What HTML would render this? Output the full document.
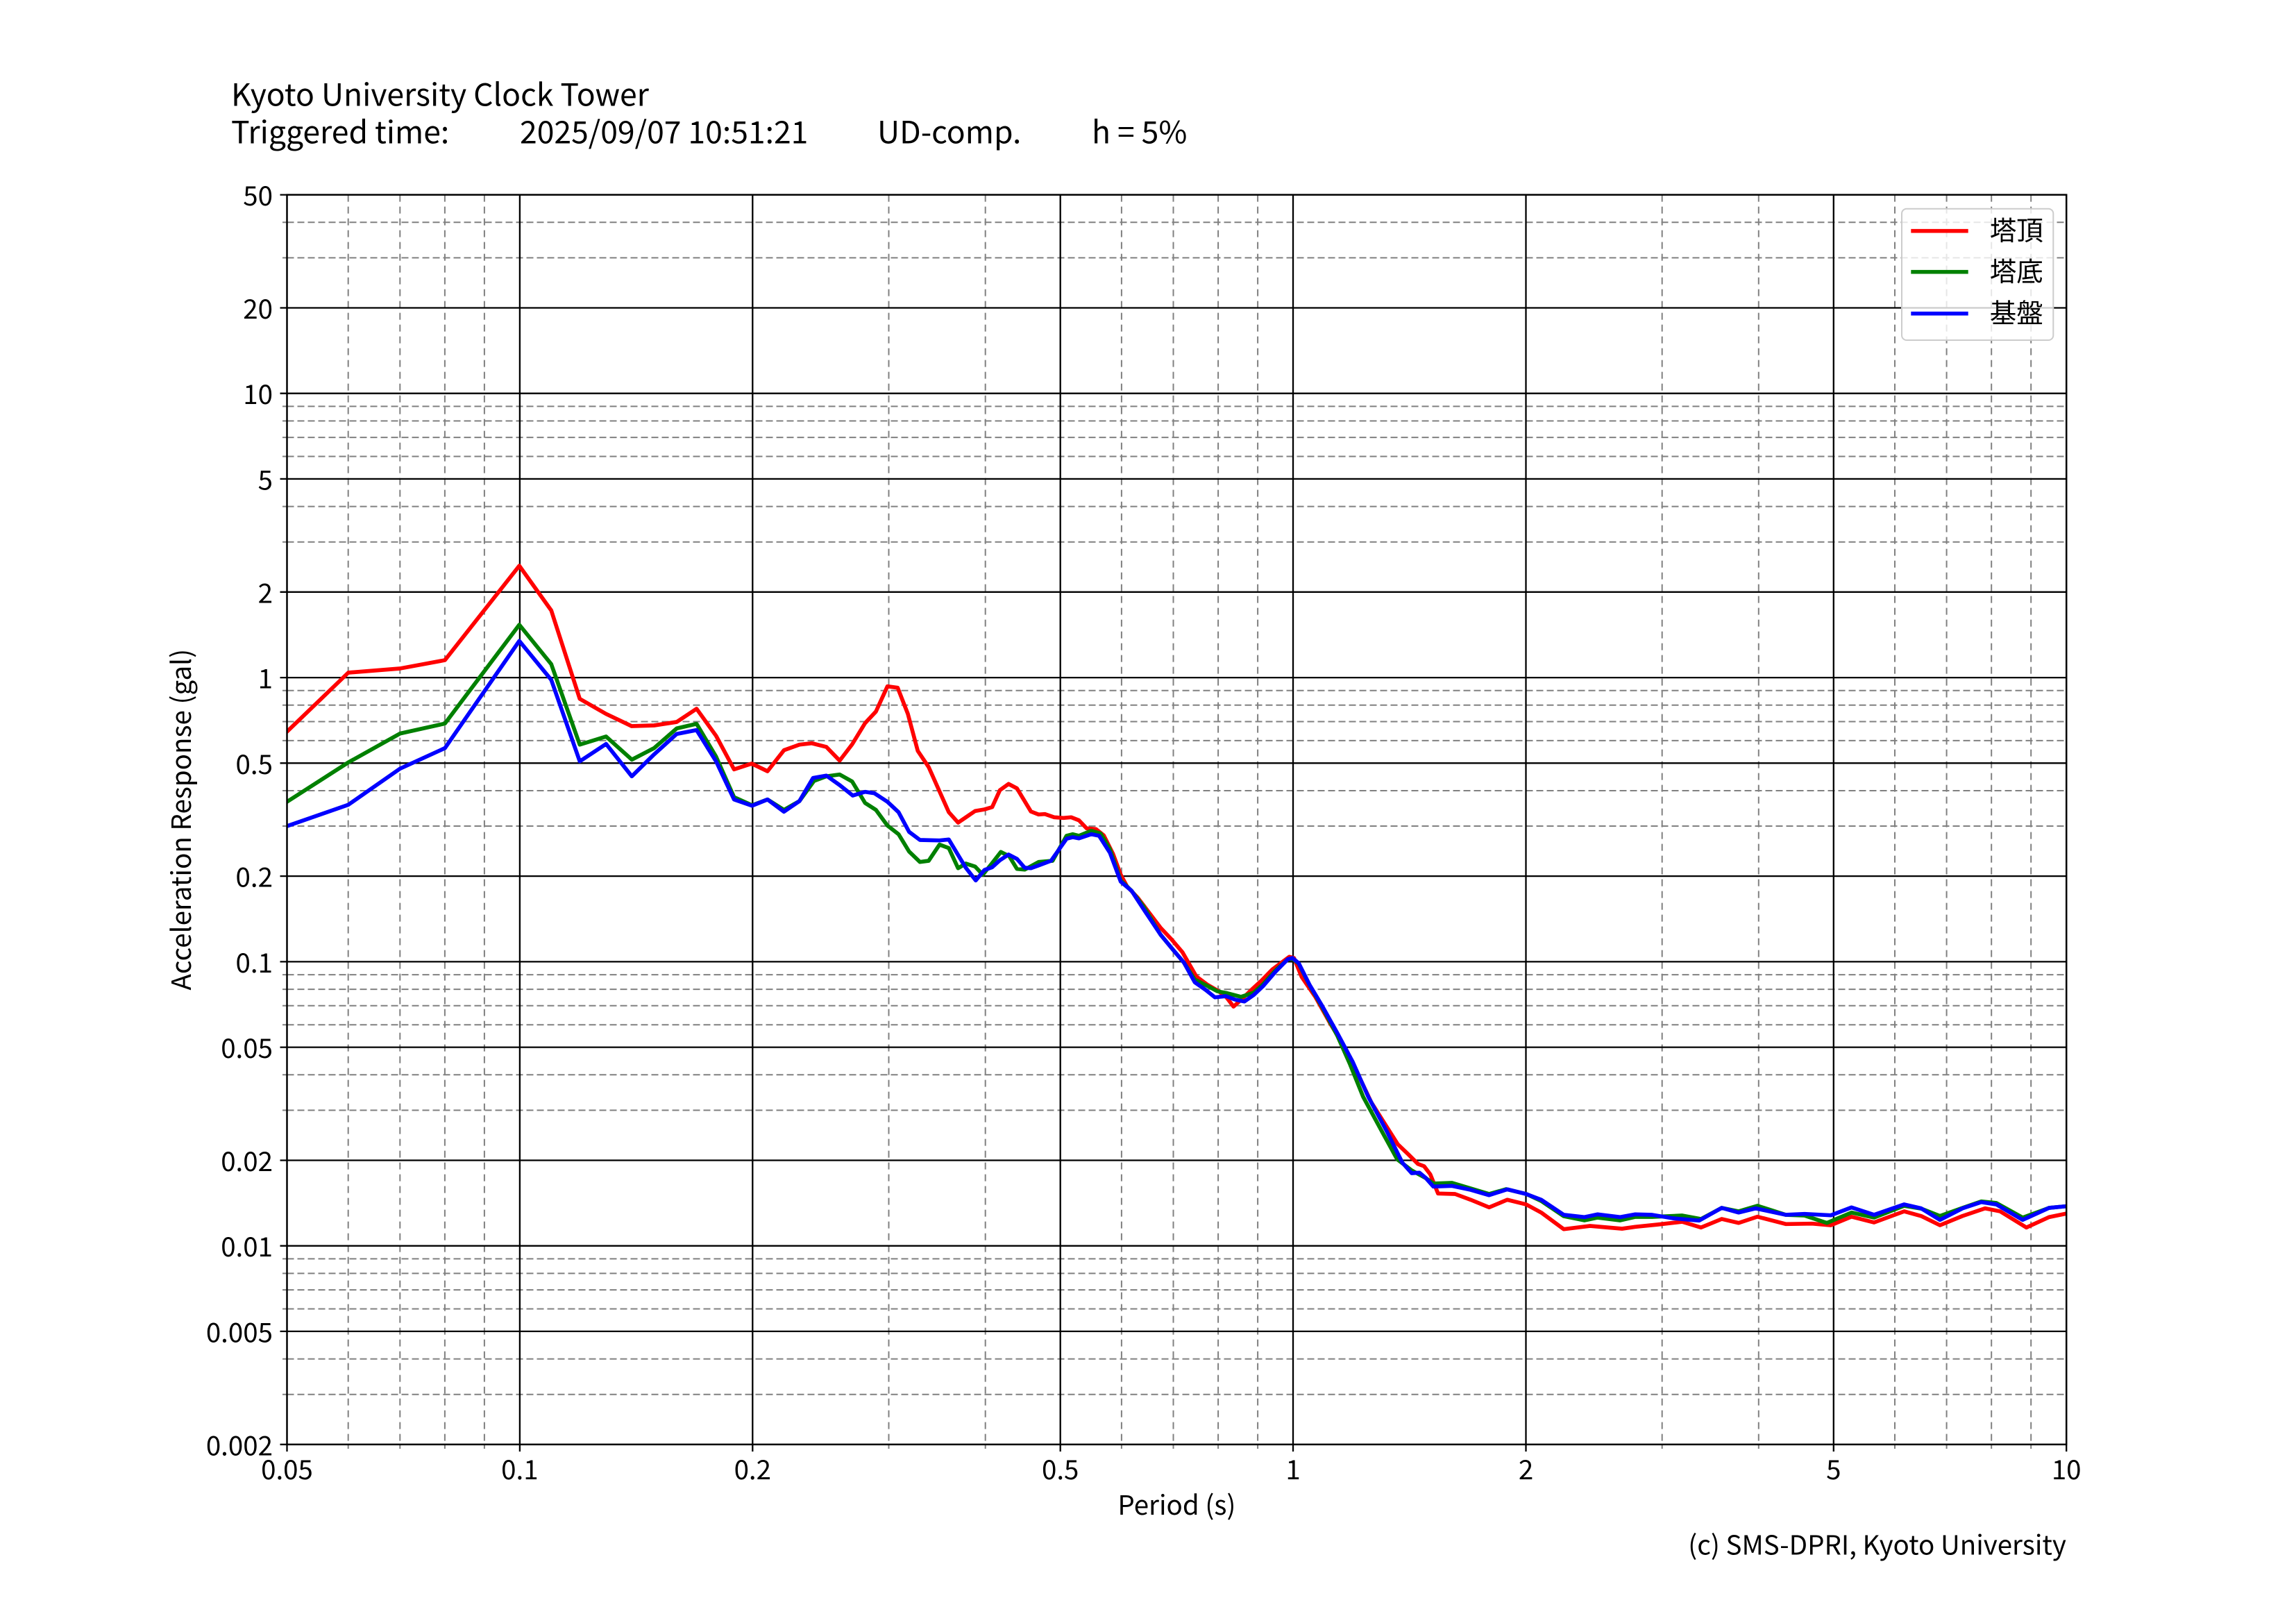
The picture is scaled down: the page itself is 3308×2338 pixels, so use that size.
<!DOCTYPE html>
<html><head><meta charset="utf-8"><style>
html,body{margin:0;padding:0;background:#fff;}
svg{display:block;}
text{font-family:"Noto Sans CJK JP","Liberation Sans",sans-serif;fill:#000;}
</style></head><body>
<svg width="3308" height="2338" viewBox="0 0 3308 2338" xmlns="http://www.w3.org/2000/svg">
<rect width="3308" height="2338" fill="#fff"/>
<!-- Title -->
<text x="333" y="152.7" font-size="44.5">Kyoto University Clock Tower</text>
<text x="333" y="206.7" font-size="44.5">Triggered time:</text>
<text x="749" y="206.7" font-size="44.5">2025/09/07 10:51:21</text>
<text x="1264" y="206.7" font-size="44.5">UD-comp.</text>
<text x="1573" y="206.7" font-size="44.5">h = 5%</text>

<!-- dashed grid -->
<g stroke="#808080" stroke-width="2" stroke-dasharray="10,5" fill="none">
<path d="M413.5 320.3H2977.2M413.5 371.4H2977.2M413.5 585.4H2977.2M413.5 606.4H2977.2M413.5 630.1H2977.2M413.5 657.5H2977.2M413.5 729.6H2977.2M413.5 780.7H2977.2M413.5 994.8H2977.2M413.5 1015.8H2977.2M413.5 1039.5H2977.2M413.5 1066.9H2977.2M413.5 1139H2977.2M413.5 1190H2977.2M413.5 1404.1H2977.2M413.5 1425.1H2977.2M413.5 1448.8H2977.2M413.5 1476.2H2977.2M413.5 1548.3H2977.2M413.5 1599.4H2977.2M413.5 1813.4H2977.2M413.5 1834.4H2977.2M413.5 1858.1H2977.2M413.5 1885.5H2977.2M413.5 1957.6H2977.2M413.5 2008.7H2977.2"/>
</g>
<g stroke="#808080" stroke-width="2" stroke-dasharray="10,7" fill="none">
<path d="M501.7 280.6V2080.8M576.3 280.6V2080.8M640.9 280.6V2080.8M697.9 280.6V2080.8M1280.5 280.6V2080.8M1419.7 280.6V2080.8M1615.9 280.6V2080.8M1690.5 280.6V2080.8M1755.1 280.6V2080.8M1812.1 280.6V2080.8M2394.7 280.6V2080.8M2533.8 280.6V2080.8M2730 280.6V2080.8M2804.6 280.6V2080.8M2869.2 280.6V2080.8M2926.2 280.6V2080.8"/>
</g>
<!-- minor ticks -->
<g stroke="#808080" stroke-width="2" fill="none">
<path d="M407 320.3H413.5M407 371.4H413.5M407 585.4H413.5M407 606.4H413.5M407 630.1H413.5M407 657.5H413.5M407 729.6H413.5M407 780.7H413.5M407 994.8H413.5M407 1015.8H413.5M407 1039.5H413.5M407 1066.9H413.5M407 1139H413.5M407 1190H413.5M407 1404.1H413.5M407 1425.1H413.5M407 1448.8H413.5M407 1476.2H413.5M407 1548.3H413.5M407 1599.4H413.5M407 1813.4H413.5M407 1834.4H413.5M407 1858.1H413.5M407 1885.5H413.5M407 1957.6H413.5M407 2008.7H413.5"/>
<path d="M501.7 2080.8V2087M576.3 2080.8V2087M640.9 2080.8V2087M697.9 2080.8V2087M1280.5 2080.8V2087M1419.7 2080.8V2087M1615.9 2080.8V2087M1690.5 2080.8V2087M1755.1 2080.8V2087M1812.1 2080.8V2087M2394.7 2080.8V2087M2533.8 2080.8V2087M2730 2080.8V2087M2804.6 2080.8V2087M2869.2 2080.8V2087M2926.2 2080.8V2087"/>
</g>
<!-- major grid -->
<g stroke="#000" stroke-width="2.3" fill="none">
<path d="M413.5 443.5H2977.2M413.5 566.7H2977.2M413.5 689.9H2977.2M413.5 852.8H2977.2M413.5 976.1H2977.2M413.5 1099.3H2977.2M413.5 1262.1H2977.2M413.5 1385.4H2977.2M413.5 1508.6H2977.2M413.5 1671.5H2977.2M413.5 1794.7H2977.2M413.5 1917.9H2977.2"/>
<path d="M748.9 280.6V2080.8M1084.3 280.6V2080.8M1527.7 280.6V2080.8M1863 280.6V2080.8M2198.5 280.6V2080.8M2641.8 280.6V2080.8"/>
<!-- major ticks -->
<path d="M403.5 280.6H413.5M403.5 443.5H413.5M403.5 566.7H413.5M403.5 689.9H413.5M403.5 852.8H413.5M403.5 976.1H413.5M403.5 1099.3H413.5M403.5 1262.1H413.5M403.5 1385.4H413.5M403.5 1508.6H413.5M403.5 1671.5H413.5M403.5 1794.7H413.5M403.5 1917.9H413.5M403.5 2080.8H413.5"/>
<path d="M413.5 2080.8V2091M748.9 2080.8V2091M1084.3 2080.8V2091M1527.7 2080.8V2091M1863 2080.8V2091M2198.5 2080.8V2091M2641.8 2080.8V2091M2977.2 2080.8V2091"/>
</g>

<!-- data -->
<svg x="413.5" y="280.6" width="2563.7" height="1800.2" viewBox="413.5 280.6 2563.7 1800.2" overflow="hidden">
<g fill="none" stroke-width="5.7" stroke-linejoin="round" stroke-linecap="round">
<polyline stroke="#ff0000" points="413.5,1054 501.8,969 576.3,963 641,951 748.2,815 794.2,879.3 835.3,1006.7 873,1028.3 910,1046 942.4,1045 975,1040 1003.6,1021 1031.7,1060 1057.6,1108.3 1083,1100 1105.8,1111 1129.5,1080.7 1151.8,1072.7 1169.6,1070.7 1190.6,1076 1209.8,1095.7 1227.7,1072.3 1246.4,1041.7 1262,1025 1278.6,988.7 1293.3,990.7 1308,1028.3 1322.3,1081.7 1338,1105 1353.6,1140 1367,1170 1380.4,1185 1404.9,1168.3 1418.3,1166 1429.5,1162.7 1440.6,1138.3 1453.1,1129.3 1465.2,1135.7 1485.3,1169 1496.4,1173.3 1505.4,1172.7 1518.8,1177.3 1532.1,1178.3 1543.3,1177.3 1554.5,1181.7 1565.6,1193.3 1579,1194.3 1590.2,1203.3 1603.6,1230 1614.7,1260 1623.7,1276.7 1639.3,1293.3 1657.1,1316.7 1672.3,1336.7 1688,1353.3 1703.6,1371.7 1723.7,1406.7 1739.3,1418.3 1754.9,1427.3 1767,1436.7 1777.2,1450 1788.4,1440 1804,1425 1817.4,1412.7 1833,1396.7 1846.4,1386.7 1857.6,1378.3 1864.3,1380 1875.4,1407.3 1895.5,1436.7 1917.9,1476.7 1940.2,1513.3 1962.5,1560 1975.9,1588.3 1993.8,1616.7 2013.8,1648.3 2029.5,1663.3 2042.9,1676.7 2051.8,1680 2060.7,1691.7 2071.9,1719.3 2096.4,1720 2118.8,1728.3 2145.5,1739.3 2171.7,1728.3 2198.8,1735 2220.5,1746.7 2253,1770.7 2290.9,1766 2337,1770 2356,1767.3 2388.5,1764 2423.7,1760 2450.8,1768.3 2480.6,1756 2505,1761.7 2532.1,1752.7 2572.8,1763.3 2610.7,1762.7 2637.8,1765 2667.6,1752.7 2700.1,1761 2743.5,1745 2767.9,1751.7 2795,1765 2827.5,1751.7 2860,1740.7 2881.7,1745 2919.6,1768.3 2952.2,1753.3 2976.6,1748.3"/>
<polyline stroke="#008000" points="413.5,1155 501.8,1098.3 576.3,1056.7 641,1042.3 748.2,900 794.2,956.7 835.3,1072.7 873.2,1061 910.3,1094.3 942.4,1077.7 975,1049.3 1003.6,1042.7 1031.7,1090 1057.6,1148.3 1083.5,1160 1105.8,1151.7 1129.5,1166.7 1151.8,1154 1172.8,1125 1190.6,1118.3 1209.8,1115.7 1227.7,1125.7 1246.4,1156.7 1262,1166.7 1278.6,1189.3 1294.6,1201.7 1309.8,1226.7 1325.4,1241.7 1338,1240 1353.6,1216.7 1367,1221.7 1380.4,1250.7 1391.5,1244 1404.9,1248.3 1416,1260 1429.5,1243.3 1442,1227.3 1454,1233.3 1465.2,1251.7 1476.3,1252.7 1496.4,1241.7 1516.5,1240 1536.6,1204 1545.5,1201.7 1554.5,1204 1572.3,1196.7 1585.7,1200.7 1599.1,1223.3 1614.7,1268.3 1630.4,1283.3 1648.2,1306.7 1672.3,1346.7 1690.2,1368.3 1705.8,1386.7 1721.4,1411 1739,1420 1754,1428 1768,1430.7 1788,1436 1806.3,1430 1819.6,1418 1837.5,1398 1855.4,1382 1862,1381 1871,1388 1886.6,1419 1904.5,1450 1926.8,1492 1945,1533 1964,1580 1990,1628 2013,1670 2033.9,1686 2054,1697 2065.2,1705 2092,1704 2118.8,1712 2145.5,1720 2170.1,1713 2199.1,1720 2220.5,1730 2253,1752 2282.8,1758 2301.8,1754 2334.3,1758 2356,1753 2380.3,1753 2423.7,1751 2450.8,1756 2480.6,1740 2505,1745 2532.1,1737 2572.8,1750 2599.9,1751 2632,1761.7 2667.6,1746.7 2700.1,1754 2743.5,1737 2767.9,1741 2795,1751.7 2827.5,1740 2854.6,1730.7 2876.3,1733 2914.2,1754 2952.2,1740 2976.6,1737.7"/>
<polyline stroke="#0000ff" points="413.5,1190 501.8,1159.3 576.3,1107.3 641,1077.7 748.2,923.3 794.2,979.3 835.3,1096.7 873.2,1071.7 910.3,1118.3 942.4,1086.7 975,1057.3 1003.6,1051.7 1031.7,1096.7 1057.6,1151.7 1083.5,1160.7 1105.8,1151.7 1129.5,1169.3 1151.8,1154 1171.4,1120.7 1190.6,1117.3 1209.8,1131 1228.6,1146 1246.4,1140.7 1259.8,1142.7 1278.6,1155 1294.6,1170 1309.8,1198.3 1325.4,1210 1353.6,1210.7 1367,1209.3 1380.4,1231.7 1391.5,1250 1405.8,1268.3 1418.3,1253.3 1429.5,1249.3 1440.6,1239.3 1453.1,1231 1465.2,1237.3 1476.3,1250 1485.3,1250.7 1496.4,1246.7 1514.3,1240 1536.6,1208.3 1545.5,1206 1554.5,1207.7 1572.3,1201.7 1583.5,1204 1599.1,1228.3 1614.7,1270 1630.4,1283.3 1650,1313.3 1672.3,1346.7 1690.2,1368.3 1705.8,1386.7 1721.4,1415 1737.1,1426 1750.4,1436.7 1766.1,1435 1779.5,1440 1792.9,1442.7 1806.3,1433.3 1819.6,1420.7 1837.5,1400 1855.4,1381.7 1862,1380 1871,1387.3 1886.6,1418.3 1904.5,1448.3 1926.8,1488.3 1949.1,1530 1971.4,1580 1998.2,1630 2020.5,1675 2033.9,1690 2045.1,1689.3 2054,1696.7 2065.2,1709.3 2092,1708.3 2118.8,1714 2145.5,1721.7 2171.7,1713.3 2198.8,1720 2220.5,1728.3 2253,1750 2282.8,1753.3 2301.8,1749.3 2334.3,1753.3 2356,1749.3 2380.3,1750 2410.2,1755 2448.1,1758.3 2480.6,1740 2505,1746.7 2529.4,1740.7 2572.8,1750 2599.9,1748.7 2637.8,1750.7 2667.6,1739.3 2700.1,1750 2743.5,1735 2767.9,1740.7 2795,1757.3 2827.5,1740.7 2854.6,1731.7 2876.3,1735 2914.2,1757.3 2952.2,1740 2976.6,1737.7"/>
</g>
</svg>

<!-- spines -->
<rect x="413.5" y="280.6" width="2563.7" height="1800.2" fill="none" stroke="#000" stroke-width="2.5"/>

<!-- y tick labels -->
<g font-size="38.5" text-anchor="end">
<text x="393" y="296">50</text>
<text x="393" y="459">20</text>
<text x="393" y="582">10</text>
<text x="393" y="705.5">5</text>
<text x="393" y="868.5">2</text>
<text x="393" y="991.5">1</text>
<text x="393" y="1115">0.5</text>
<text x="393" y="1277.5">0.2</text>
<text x="393" y="1401">0.1</text>
<text x="393" y="1524">0.05</text>
<text x="393" y="1687">0.02</text>
<text x="393" y="1810">0.01</text>
<text x="393" y="1933.5">0.005</text>
<text x="393" y="2096.5">0.002</text>
</g>
<!-- x tick labels -->
<g font-size="38.5" text-anchor="middle">
<text x="413.5" y="2131">0.05</text>
<text x="748.9" y="2131">0.1</text>
<text x="1084.3" y="2131">0.2</text>
<text x="1527.7" y="2131">0.5</text>
<text x="1863" y="2131">1</text>
<text x="2198.5" y="2131">2</text>
<text x="2641.8" y="2131">5</text>
<text x="2977.2" y="2131">10</text>
</g>
<text x="1695.4" y="2182" font-size="38.5" text-anchor="middle">Period (s)</text>
<text transform="translate(275,1180.7) rotate(-90)" font-size="38.5" text-anchor="middle">Acceleration Response (gal)</text>
<text x="2977" y="2239.5" font-size="38.5" text-anchor="end">(c) SMS-DPRI, Kyoto University</text>

<!-- legend -->
<rect x="2740" y="300.7" width="218.3" height="189.3" rx="7" ry="7" fill="#fff" fill-opacity="0.8" stroke="#cccccc" stroke-width="2"/>
<g stroke-width="5.7">
<line x1="2753.3" y1="332.7" x2="2835.7" y2="332.7" stroke="#ff0000"/>
<line x1="2753.3" y1="391.7" x2="2835.7" y2="391.7" stroke="#008000"/>
<line x1="2753.3" y1="451.7" x2="2835.7" y2="451.7" stroke="#0000ff"/>
</g>
<g font-size="38.5">
<text x="2866.7" y="346">塔頂</text>
<text x="2866.7" y="405">塔底</text>
<text x="2866.7" y="465">基盤</text>
</g>
</svg>
</body></html>
